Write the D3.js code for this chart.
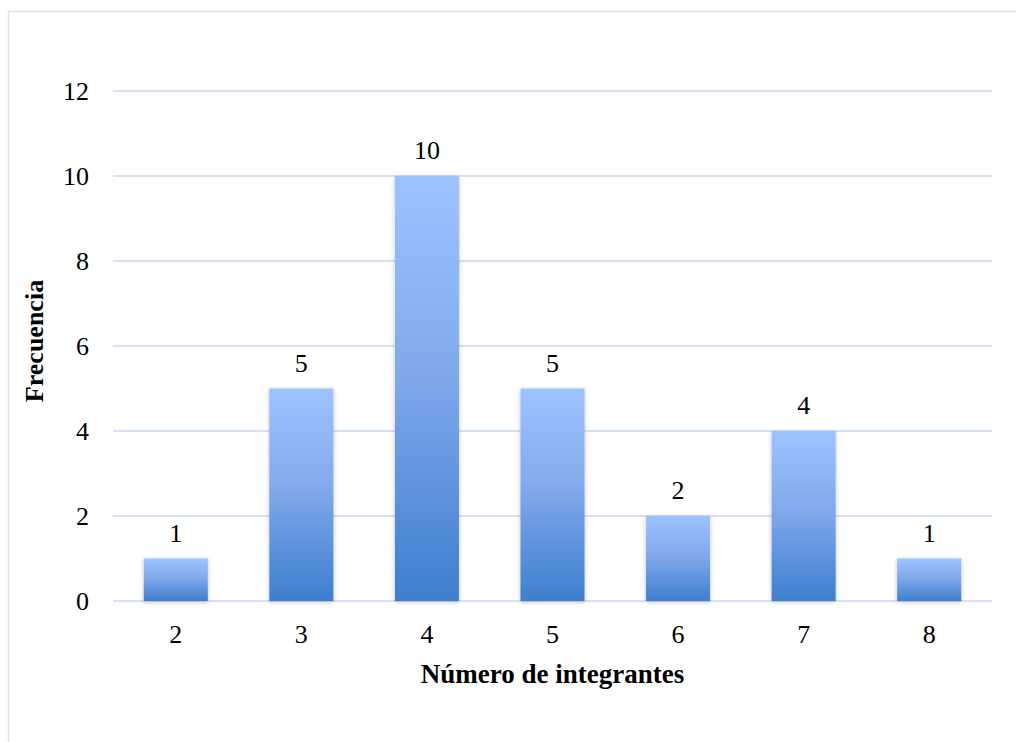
<!DOCTYPE html>
<html><head><meta charset="utf-8">
<script src="https://cdn.jsdelivr.net/npm/d3@7"></script>
<style>body{margin:0;background:#fff}svg{display:block}
svg text{font-family:"Liberation Serif","Times New Roman",Tinos,"DejaVu Serif",serif;fill:#000}</style>
</head><body><svg id="c" width="1016" height="742"></svg>
<script>
const categories = ["2","3","4","5","6","7","8"];
const values = [1,5,10,5,2,4,1];
const yTicks = [0,2,4,6,8,10,12];

const svg = d3.select("#c");
const W=1016,H=742;
const m={left:113,right:992,top:91,bottom:601};
const FS=26;
const defs=svg.append("defs");
const g=defs.append("linearGradient").attr("id","bg").attr("x1",0).attr("y1",0).attr("x2",0).attr("y2",1);
g.append("stop").attr("offset","0%").attr("stop-color","#9DC3FF");
g.append("stop").attr("offset","45%").attr("stop-color","#82AAEC");
g.append("stop").attr("offset","100%").attr("stop-color","#3E7ECE");
const f=defs.append("filter").attr("id","sh").attr("x","-20%").attr("y","-20%").attr("width","140%").attr("height","140%");
f.append("feDropShadow").attr("dx",0).attr("dy",1).attr("stdDeviation",2).attr("flood-color","#000").attr("flood-opacity",0.25);

svg.append("rect").attr("x",8.5).attr("y",11.5).attr("width",W+20).attr("height",H+20).attr("fill","none").attr("stroke","#D6E2F3").attr("stroke-width",1.5);

const x=d3.scaleBand().domain(categories).range([m.left,m.right]).paddingInner(0.49).paddingOuter(0.245);
const y=d3.scaleLinear().domain([0,12]).range([m.bottom,m.top]);

svg.append("g").selectAll("line").data(yTicks).join("line")
 .attr("x1",m.left).attr("x2",m.right).attr("y1",d=>y(d)).attr("y2",d=>y(d))
 .attr("stroke","#D6E2F3").attr("stroke-width",2);

const yAxis=svg.append("g").attr("transform",`translate(${m.left},0)`).call(d3.axisLeft(y).tickValues(yTicks).tickSize(0).tickPadding(24));
yAxis.select(".domain").remove();
yAxis.attr("font-family",null).attr("font-size",FS);
yAxis.selectAll("text").attr("fill","#000").attr("dy","0.34em");

const xAxis=svg.append("g").attr("transform",`translate(0,${m.bottom})`).call(d3.axisBottom(x).tickSize(0).tickPadding(0));
xAxis.select(".domain").remove();
xAxis.attr("font-family",null).attr("font-size",FS);
xAxis.selectAll("text").attr("fill","#000").attr("dy",null).attr("y",42);

svg.append("g").selectAll("text").data(values).join("text")
 .attr("x",(d,i)=>x(categories[i])+x.bandwidth()/2).attr("y",d=>y(d)-17)
 .attr("text-anchor","middle").attr("font-size",FS).text(d=>d);

svg.append("g").selectAll("rect").data(values).join("rect")
 .attr("x",(d,i)=>x(categories[i])).attr("width",x.bandwidth())
 .attr("y",d=>y(d)).attr("height",d=>m.bottom-y(d))
 .attr("fill","url(#bg)").attr("filter","url(#sh)");

svg.append("text").attr("x",(m.left+m.right)/2).attr("y",683).attr("text-anchor","middle")
 .attr("font-weight","bold").attr("font-size",FS+1).text("Número de integrantes");
svg.append("text").attr("transform",`translate(43,341) rotate(-90)`).attr("text-anchor","middle")
 .attr("font-weight","bold").attr("font-size",FS).text("Frecuencia");
</script></body></html>
